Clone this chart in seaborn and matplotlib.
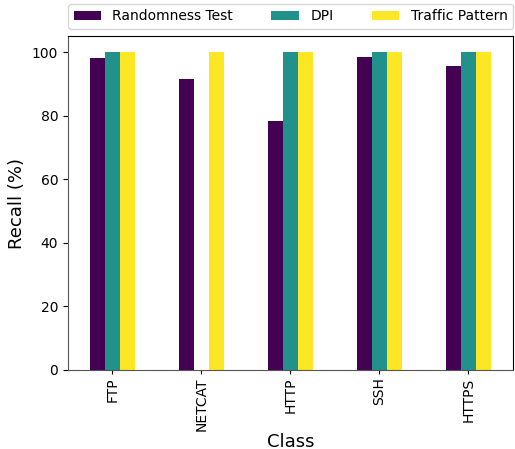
import matplotlib
matplotlib.use("Agg")
import matplotlib.pyplot as plt
import seaborn as sns
import pandas as pd

classes = ["FTP", "NETCAT", "HTTP", "SSH", "HTTPS"]
randomness_test = [98.1, 91.5, 78.3, 98.4, 95.6]
dpi = [100, 0, 100, 100, 100]
traffic_pattern = [100, 100, 100, 100, 100]
methods = ["Randomness Test", "DPI", "Traffic Pattern"]
colors = ["#440154", "#21918c", "#fde725"]

df = pd.DataFrame({
    "Class": classes * 3,
    "Method": [methods[0]] * 5 + [methods[1]] * 5 + [methods[2]] * 5,
    "Recall": randomness_test + dpi + traffic_pattern,
})

fig = plt.figure(figsize=(5.15, 4.49), dpi=100)
ax = fig.add_axes([0.132, 0.176, 0.864, 0.743])

sns.barplot(data=df, x="Class", y="Recall", hue="Method", order=classes,
            hue_order=methods, palette=colors, width=0.5, gap=0,
            errorbar=None, saturation=1, ax=ax)

ax.set_xlim(-0.5, 4.5)
ax.set_ylim(0, 105)
ax.set_xlabel("Class", fontsize=13, labelpad=1)
ax.set_ylabel("Recall (%)", fontsize=13)
ax.tick_params(axis="x", labelrotation=90, labelsize=10, length=3, pad=2.5)
ax.tick_params(axis="y", labelsize=10)
for side in ("left", "bottom"):
    ax.spines[side].set_color("#555555")

ax.legend(bbox_to_anchor=(0, 1.022, 1, 0.2), loc="lower left", mode="expand",
          ncol=3, borderaxespad=0, fontsize=10, title=None)

fig.savefig("out.png", dpi=100)
